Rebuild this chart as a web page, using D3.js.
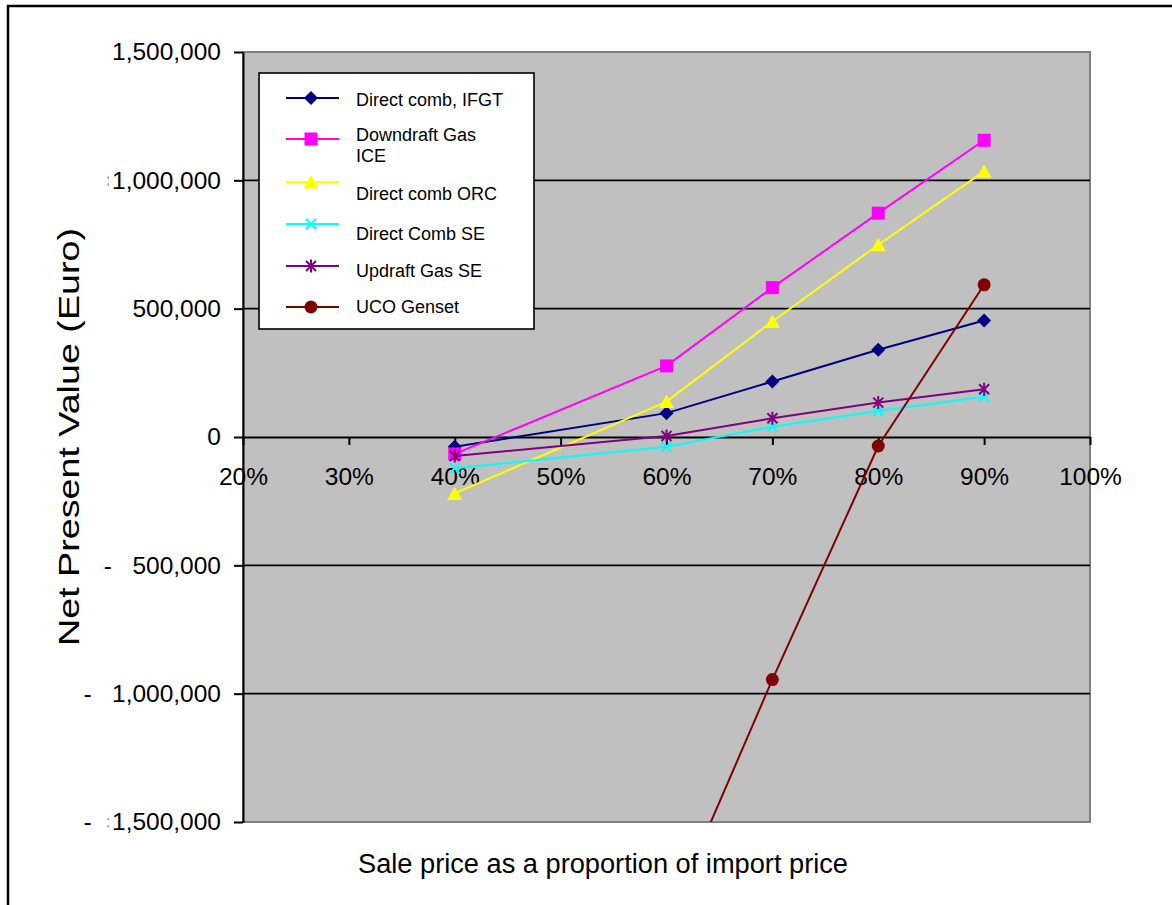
<!DOCTYPE html>
<html>
<head>
<meta charset="utf-8">
<script src="https://cdnjs.cloudflare.com/ajax/libs/d3/7.8.5/d3.min.js"></script>
<style>
  html, body { margin: 0; padding: 0; background: #fff; }
  svg { display: block; font-family: "Liberation Sans", Arial, sans-serif; }
</style>
</head>
<body>
<svg id="chart" width="1172" height="905"></svg>
<script>
// ---------- data ----------
const categories = [0.4, 0.6, 0.7, 0.8, 0.9];
const seriesNames = ["Direct comb, IFGT", "Downdraft Gas\nICE", "Direct comb ORC", "Direct Comb SE", "Updraft Gas SE", "UCO Genset"];
const ifgtValues      = [-38000, 93000, 216000, 340000, 454000];
const downdraftValues = [-66000, 277000, 582000, 872000, 1156000];
const orcValues       = [-220000, 138000, 450000, 749000, 1035000];
const directSEValues  = [-122000, -38000, 40000, 101000, 157000];
const updraftSEValues = [-74000, 4000, 73000, 134000, 186000];
const ucoValues       = [null, -1900000, -945000, -35000, 593000];
const xTickValues = [0.2, 0.3, 0.4, 0.5, 0.6, 0.7, 0.8, 0.9, 1.0];
const xTickLabels = ["20%", "30%", "40%", "50%", "60%", "70%", "80%", "90%", "100%"];
const yTickValues = [1500000, 1000000, 500000, 0, -500000, -1000000, -1500000];
const yTickLabels = ["1,500,000", "1,000,000", "500,000", "0", "-\u00A0\u00A0\u00A0500,000", "-\u00A0\u00A0\u00A01,000,000", "-\u00A0\u00A0\u00A01,500,000"];
const yTitle = "Net Present Value (Euro)";
const xTitle = "Sale price as a proportion of import price";

// ---------- styles ----------
const colors  = ["#000080", "#FF00FF", "#FFFF00", "#00FFFF", "#800080", "#800000"];
const markers = ["diamond", "square", "triangle", "x", "star", "circle"];
const allValues = [ifgtValues, downdraftValues, orcValues, directSEValues, updraftSEValues, ucoValues];

// ---------- layout ----------
const plot = { left: 243, top: 52, right: 1090, bottom: 822 };
const svg = d3.select("#chart");

const x = d3.scaleLinear().domain([0.2, 1.0]).range([plot.left, plot.right]);
const y = d3.scaleLinear().domain([-1500000, 1500000]).range([plot.bottom, plot.top]);

// outer frame
svg.append("rect").attr("x", 8).attr("y", 6).attr("width", 1200).attr("height", 1000)
  .attr("fill", "none").attr("stroke", "#000").attr("stroke-width", 2.5);

// plot area
svg.append("rect")
  .attr("x", plot.left).attr("y", plot.top)
  .attr("width", plot.right - plot.left).attr("height", plot.bottom - plot.top)
  .attr("fill", "#c0c0c0").attr("stroke", "#808080").attr("stroke-width", 2);

// gridlines
svg.append("g").selectAll("line")
  .data(yTickValues.filter(v => v !== 0 && Math.abs(v) !== 1500000))
  .join("line")
  .attr("x1", plot.left).attr("x2", plot.right)
  .attr("y1", d => y(d)).attr("y2", d => y(d))
  .attr("stroke", "#000").attr("stroke-width", 1.6);

// y axis
const yAxis = svg.append("g").attr("transform", `translate(${plot.left},0)`)
  .call(d3.axisLeft(y).tickValues(yTickValues).tickSize(9).tickSizeOuter(0).tickPadding(13)
    .tickFormat((d, i) => yTickLabels[i]));
yAxis.select(".domain").attr("stroke", "#000").attr("stroke-width", 2);
yAxis.selectAll(".tick line").attr("stroke", "#000").attr("stroke-width", 2);
yAxis.selectAll(".tick text").attr("font-size", 24.5).attr("fill", "#000")
  .attr("font-family", "'Liberation Sans', Arial, sans-serif");

// small clipped-glyph artifacts (two faint dots) seen before two labels
[1000000, -1500000].forEach(v => {
  [-4, 3].forEach(dy => {
    svg.append("rect").attr("x", 107.5).attr("y", y(v) + dy).attr("width", 1.5).attr("height", 2.5)
      .attr("fill", "#999");
  });
});

// x axis at zero
const xAxis = svg.append("g").attr("transform", `translate(0,${y(0)})`)
  .call(d3.axisBottom(x).tickValues(xTickValues).tickSize(8).tickSizeOuter(0).tickPadding(23)
    .tickFormat((d, i) => xTickLabels[i]));
xAxis.select(".domain").attr("stroke", "#000").attr("stroke-width", 2);
xAxis.selectAll(".tick line").attr("stroke", "#000").attr("stroke-width", 2);
xAxis.selectAll(".tick text").attr("font-size", 24.5).attr("fill", "#000")
  .attr("font-family", "'Liberation Sans', Arial, sans-serif");

// clip
svg.append("clipPath").attr("id", "plotclip").append("rect")
  .attr("x", plot.left).attr("y", plot.top)
  .attr("width", plot.right - plot.left).attr("height", plot.bottom - plot.top);

function drawMarker(g, type, color) {
  switch (type) {
    case "diamond":
      g.append("path").attr("d", "M0,-7L7,0L0,7L-7,0Z").attr("fill", color); break;
    case "square":
      g.append("rect").attr("x", -6.5).attr("y", -6.5).attr("width", 13).attr("height", 13).attr("fill", color); break;
    case "triangle":
      g.append("path").attr("d", "M0,-7L7.5,6.5L-7.5,6.5Z").attr("fill", color); break;
    case "x":
      g.append("path").attr("d", "M-5,-5L5,5M-5,5L5,-5").attr("stroke", color).attr("stroke-width", 2).attr("fill", "none"); break;
    case "star":
      g.append("path").attr("d", "M-5,-5L5,5M-5,5L5,-5M0,-6.5L0,6.5").attr("stroke", color).attr("stroke-width", 2).attr("fill", "none"); break;
    case "circle":
      g.append("circle").attr("r", 6.5).attr("fill", color); break;
  }
}

const line = d3.line()
  .defined(d => d.v !== null)
  .x(d => x(d.c)).y(d => y(d.v));

const seriesG = svg.append("g").attr("clip-path", "url(#plotclip)");
allValues.forEach((vals, si) => {
  const pts = categories.map((c, i) => ({ c, v: vals[i] }));
  const g = seriesG.append("g");
  g.append("path").datum(pts).attr("d", line)
    .attr("fill", "none").attr("stroke", colors[si]).attr("stroke-width", 2);
  pts.filter(p => p.v !== null).forEach(p => {
    const m = g.append("g").attr("transform", `translate(${x(p.c)},${y(p.v)})`);
    drawMarker(m, markers[si], colors[si]);
  });
});

// legend
const legend = svg.append("g");
legend.append("rect").attr("x", 259).attr("y", 73).attr("width", 275).attr("height", 256)
  .attr("fill", "#fff").attr("stroke", "#000").attr("stroke-width", 1.6);
const legendMarkerY = [98, 139, 182, 224, 266, 307];
const legendTextY = [[106], [141, 162], [200], [240], [277], [313]];
seriesNames.forEach((name, i) => {
  const my = legendMarkerY[i];
  legend.append("line").attr("x1", 286).attr("x2", 339).attr("y1", my).attr("y2", my)
    .attr("stroke", colors[i]).attr("stroke-width", 2);
  const m = legend.append("g").attr("transform", `translate(311,${my})`);
  drawMarker(m, markers[i], colors[i]);
  const t = legend.append("text").attr("font-size", 18).attr("fill", "#000");
  name.split("\n").forEach((ln, k) => {
    t.append("tspan").attr("x", 356).attr("y", legendTextY[i][k]).text(ln);
  });
});

// axis titles
svg.append("text")
  .attr("transform", `translate(79,${(plot.top + plot.bottom) / 2}) rotate(-90)`)
  .attr("text-anchor", "middle").attr("font-size", 30).attr("fill", "#000")
  .attr("textLength", 418).attr("lengthAdjust", "spacingAndGlyphs")
  .text(yTitle);
svg.append("text")
  .attr("x", 603).attr("y", 873)
  .attr("text-anchor", "middle").attr("font-size", 27).attr("fill", "#000")
  .attr("textLength", 490).attr("lengthAdjust", "spacingAndGlyphs")
  .text(xTitle);
</script>
</body>
</html>
